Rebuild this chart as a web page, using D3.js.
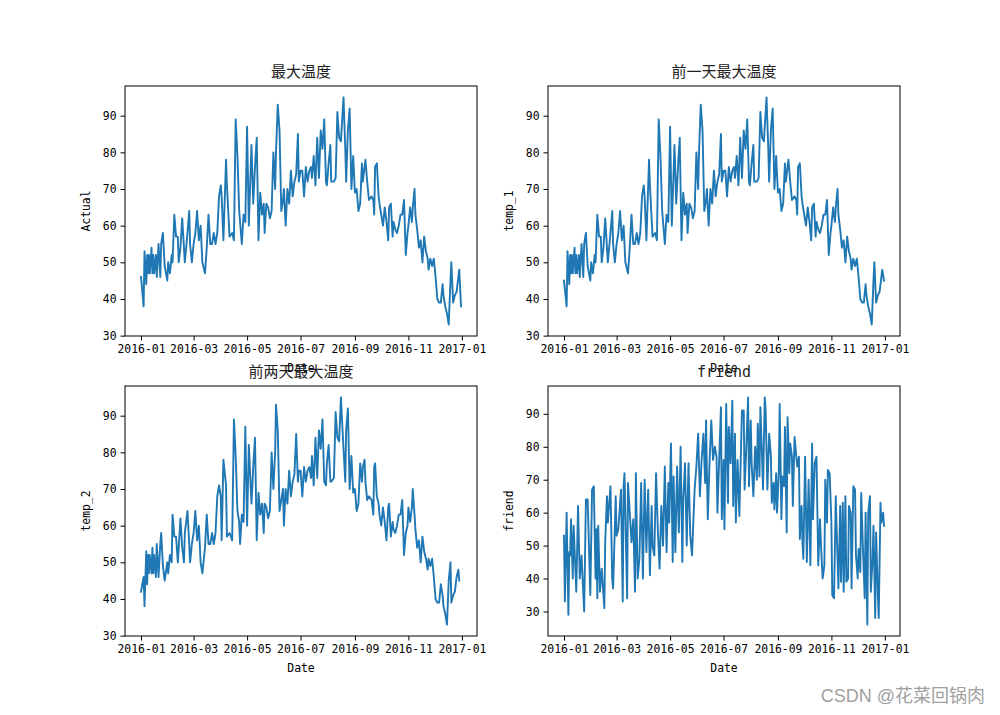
<!DOCTYPE html>
<html>
<head>
<meta charset="utf-8">
<script src="https://cdn.jsdelivr.net/npm/d3@7"></script>
<style>
  html, body { margin: 0; padding: 0; background: #fff; }
  svg { display: block; }
</style>
</head>
<body>
<svg id="chart" width="1000" height="715"></svg>
<script>
// ---------- data (day-of-year offsets from 2016-01-01) ----------
const days = [0,3,4,6,7,8,9,10,12,13,14,15,17,18,20,22,23,25,27,30,31,33,35,36,38,40,42,43,45,47,49,50,53,55,56,58,60,62,64,66,68,70,73,75,77,79,81,83,85,87,89,91,92,94,97,98,101,104,106,108,110,112,113,115,117,119,121,123,126,128,130,132,134,136,138,140,141,143,145,147,149,151,153,154,156,158,160,162,163,165,167,169,171,173,175,177,179,180,182,184,186,188,190,192,194,195,197,199,201,203,205,207,209,211,212,214,216,217,220,222,224,226,228,231,233,234,236,238,240,242,244,246,248,250,252,253,255,256,258,260,263,265,266,267,269,271,272,274,276,278,280,282,283,285,287,288,290,292,294,296,298,300,302,304,305,307,309,310,312,313,315,317,319,321,323,325,327,328,330,332,334,336,338,340,342,344,345,347,349,351,353,354,356,358,360,362,363,365];
const actual = [46,38,53,44,52,47,52,47,54,47,52,47,52,46,55,46,55,58,49,45,50,47,52,50,63,57,57,50,54,62,54,50,58,64,55,50,55,58,64,56,60,50,47,54,63,55,55,58,55,58,68,71,68,56,78,71,57,58,56,89,79,64,61,55,63,61,87,60,82,66,76,84,56,69,63,66,58,66,65,62,64,80,70,80,93,86,64,67,70,60,70,66,75,68,72,74,85,72,75,75,68,76,72,75,76,73,79,71,84,73,86,81,89,72,71,77,82,72,72,73,91,84,83,95,81,72,86,92,70,79,69,70,64,66,77,72,76,78,72,67,68,67,63,76,77,68,66,63,60,65,61,56,65,66,57,61,59,58,60,63,63,67,52,58,60,65,61,65,70,63,59,54,56,50,57,53,51,48,51,49,51,46,40,39,39,44,41,38,36,33,45,50,39,41,42,46,48,38];
const temp1 = [45,38,53,44,52,47,52,47,54,47,52,47,52,46,55,46,55,58,49,45,50,47,52,50,63,57,57,50,54,62,54,50,58,64,55,50,55,58,64,56,60,50,47,54,63,55,55,58,55,58,68,71,68,56,78,71,57,58,56,89,79,64,61,55,63,61,87,60,82,66,76,84,56,69,63,66,58,66,65,62,64,80,70,80,93,86,64,67,70,60,70,66,75,68,72,74,85,72,75,75,68,76,72,75,76,73,79,71,84,73,86,81,89,72,71,77,82,72,72,73,91,84,83,95,81,72,86,92,70,79,69,70,64,66,77,72,76,78,72,67,68,67,63,76,77,68,66,63,60,65,61,56,65,66,57,61,59,58,60,63,63,67,52,58,60,65,61,65,70,63,59,54,56,50,57,53,51,48,51,49,51,46,40,39,39,44,41,38,36,33,45,50,39,41,42,46,48,45];
const temp2 = [42,46,38,53,44,52,47,52,47,54,47,52,46,55,46,55,58,49,45,50,47,52,50,63,57,57,50,54,62,54,50,58,64,55,50,55,58,64,56,60,50,47,54,63,55,55,58,55,58,68,71,68,56,78,71,57,58,56,89,79,64,61,55,63,61,87,60,82,66,76,84,56,69,63,66,58,66,65,62,64,80,70,80,93,86,64,67,70,60,70,66,75,68,72,74,85,72,75,75,68,76,72,75,76,73,79,71,84,73,86,81,89,72,71,77,82,72,72,73,91,84,83,95,81,72,86,92,70,79,69,70,64,66,77,72,76,78,72,67,68,67,63,76,77,68,66,63,60,65,61,56,65,66,57,61,59,58,60,63,63,67,52,58,60,65,61,65,70,63,59,54,56,50,57,53,51,48,51,49,51,46,40,39,39,44,41,38,36,33,45,50,39,41,42,46,48,45];

const friendDays = [0,1,3,5,6,7,8,10,11,14,16,18,20,23,24,25,27,30,32,34,36,37,38,39,41,43,46,47,49,50,53,55,56,59,60,62,65,67,68,69,72,73,75,77,79,81,82,84,86,88,90,92,94,96,98,100,101,103,105,107,109,111,113,115,117,119,120,122,124,125,127,129,131,133,135,136,138,140,142,144,146,149,151,153,155,157,159,161,162,164,166,168,170,172,174,175,177,179,180,182,183,185,187,188,190,192,193,195,196,198,200,201,203,205,206,208,210,211,213,214,216,218,220,221,223,224,226,227,229,230,232,234,236,237,239,240,242,243,245,246,248,249,251,252,254,255,257,258,260,261,263,264,266,268,269,271,272,273,275,277,279,281,283,284,286,288,290,292,293,295,297,298,300,301,303,305,306,308,310,311,313,315,316,318,319,321,322,324,325,327,328,330,332,333,335,336,338,339,341,343,344,346,347,349,350,352,353,355,356,358,359,361,362,364,365];
const friend = [53,33,60,29,48,47,58,40,56,36,62,40,47,30,47,64,64,35,67,68,40,55,34,56,36,43,31,51,65,57,68,40,37,65,53,55,67,33,68,72,34,69,60,51,58,36,72,40,46,69,40,70,48,67,41,62,50,47,72,55,43,62,50,74,48,69,57,81,45,71,48,74,54,80,45,64,75,50,75,53,47,67,74,84,65,76,84,69,88,58,75,88,76,80,77,60,76,92,58,76,55,93,63,86,75,94,62,84,57,76,59,70,91,91,67,80,95,68,88,75,65,80,70,87,71,92,76,67,95,91,67,84,77,63,69,61,72,60,72,93,58,71,68,86,54,89,72,81,77,62,83,80,74,77,52,62,51,46,77,45,70,44,81,58,75,77,44,58,51,40,44,70,57,73,72,57,35,34,65,55,37,62,39,63,36,65,39,40,62,60,37,68,67,47,40,49,42,66,49,34,60,26,60,65,36,46,56,28,54,35,28,63,57,60,56];

const xTickLabels = ["2016-01","2016-03","2016-05","2016-07","2016-09","2016-11","2017-01"];
const yTickValues = [30,40,50,60,70,80,90];
const titles = ["最大温度","前一天最大温度","前两天最大温度","friend"];
const yLabels = ["Actual","temp_1","temp_2","friend"];
const xLabel = "Date";

// ---------- layout ----------
const svg = d3.select("#chart");
const W = 352, H = 250;
const origin = new Date(2016, 0, 1);
const toDate = d => d3.timeDay.offset(origin, d);
const parseTick = d3.timeParse("%Y-%m");

const panels = [
  {x: 125, y: 86,  days: days,       values: actual},
  {x: 548, y: 86,  days: days,       values: temp1},
  {x: 125, y: 386, days: days,       values: temp2},
  {x: 548, y: 386, days: friendDays, values: friend}
];

const monoFont = "'DejaVu Sans Mono', 'Liberation Mono', monospace";
const titleFont = "'DejaVu Sans Mono', 'Noto Sans CJK SC', sans-serif";

panels.forEach((p, i) => {
  const pts = p.days.map((d, k) => ({date: toDate(d), v: p.values[k]}));
  const dExt = d3.extent(pts, d => d.date);
  const span = dExt[1] - dExt[0];
  const x = d3.scaleTime()
    .domain([new Date(+dExt[0] - span * 0.05), new Date(+dExt[1] + span * 0.05)])
    .range([0, W]);
  const vExt = d3.extent(pts, d => d.v);
  const vr = vExt[1] - vExt[0];
  const y = d3.scaleLinear()
    .domain([vExt[0] - vr * 0.05, vExt[1] + vr * 0.05])
    .range([H, 0]);

  const g = svg.append("g").attr("transform", `translate(${p.x},${p.y})`);

  // line
  g.append("path")
    .datum(pts)
    .attr("fill", "none")
    .attr("stroke", "#1f77b4")
    .attr("stroke-width", 1.9)
    .attr("stroke-linejoin", "round")
    .attr("stroke-linecap", "square")
    .attr("d", d3.line().x(d => x(d.date)).y(d => y(d.v)));

  // frame
  g.append("rect")
    .attr("x", 0).attr("y", 0).attr("width", W).attr("height", H)
    .attr("fill", "none").attr("stroke", "#000").attr("stroke-width", 1);

  // x axis
  const xAxis = d3.axisBottom(x)
    .tickValues(xTickLabels.map(parseTick))
    .tickFormat((d, k) => xTickLabels[k])
    .tickSizeOuter(0).tickSizeInner(4.5).tickPadding(4);
  const gx = g.append("g").attr("transform", `translate(0,${H})`).call(xAxis);
  gx.select(".domain").remove();
  gx.selectAll("text").attr("font-family", monoFont).attr("font-size", 11.4).attr("fill", "#000");

  // y axis
  const yAxis = d3.axisLeft(y)
    .tickValues(yTickValues)
    .tickFormat(d3.format("d"))
    .tickSizeOuter(0).tickSizeInner(4.5).tickPadding(4);
  const gy = g.append("g").call(yAxis);
  gy.select(".domain").remove();
  gy.selectAll("text").attr("font-family", monoFont).attr("font-size", 11.4).attr("fill", "#000");

  // y label
  g.append("text")
    .attr("transform", `translate(-35,${H / 2}) rotate(-90)`)
    .attr("text-anchor", "middle")
    .attr("font-family", monoFont)
    .attr("font-size", 11.4)
    .text(yLabels[i]);

  // x label
  g.append("text")
    .attr("x", W / 2).attr("y", H + 36)
    .attr("text-anchor", "middle")
    .attr("font-family", monoFont)
    .attr("font-size", 11.4)
    .text(xLabel);

  p.g = g;
});

// titles drawn last (over neighbouring labels, as in the reference)
panels.forEach((p, i) => {
  p.g.append("text")
    .attr("x", W / 2).attr("y", -9)
    .attr("text-anchor", "middle")
    .attr("font-family", titleFont)
    .attr("font-size", 15)
    .attr("fill", "#222")
    .text(titles[i]);
});

// watermark
svg.append("text")
  .attr("x", 985).attr("y", 702)
  .attr("text-anchor", "end")
  .attr("font-family", "'Liberation Sans', 'Noto Sans CJK SC', sans-serif")
  .attr("font-size", 18)
  .attr("fill", "#a0a0a0")
  .text("CSDN @花菜回锅肉");
</script>
</body>
</html>
